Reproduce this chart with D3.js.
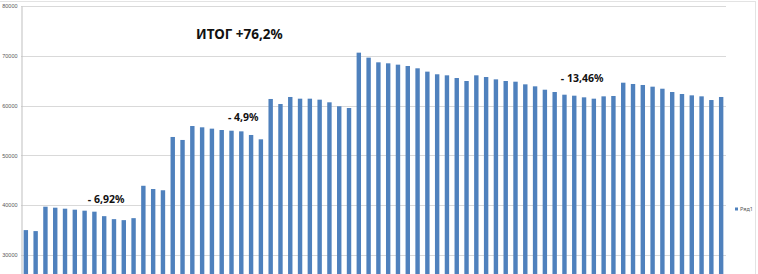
<!DOCTYPE html>
<html>
<head>
<meta charset="utf-8">
<script src="https://cdn.jsdelivr.net/npm/d3@7/dist/d3.min.js"></script>
<style>
	body { margin: 0; background: #fff; }
	svg { display: block; font-family: "Noto Sans", sans-serif; }
</style>
</head>
<body>
<div id="chart"></div>
<script>
// series values, one per bar (Ряд1)
var values = [35000, 34800, 39700, 39500, 39300, 39100, 38900, 38700, 37800, 37200,
	37000, 37400, 43900, 43250, 43000, 53700, 53100, 55900, 55640, 55370,
	55100, 54960, 54830, 54100, 53230, 61330, 60320, 61730, 61390, 61390,
	61190, 60660, 59860, 59520, 70630, 69630, 68690, 68490, 68220, 67950,
	67490, 66820, 66290, 66080, 65540, 64940, 66080, 65740, 65270, 64940,
	64800, 64270, 63870, 63190, 62730, 62190, 61990, 61660, 61390, 61860,
	61930, 64600, 64340, 64140, 63800, 63390, 62730, 62330, 62060, 61860,
	61120, 61730];
var categories = values.map(function(d, i){ return i + 1; });
var yTicks = [30000, 40000, 50000, 60000, 70000, 80000];
var seriesName = 'Ряд1';

// text notes over the bars: [category the label is centred on, value level of baseline, text]
var notes = [
	{text: 'ИТОГ +76,2%', at: 22.8, level: 73450, size: 13.5},
	{text: '- 6,92%', at: 9.2, level: 40450, size: 10.5},
	{text: '- 4,9%', at: 23.2, level: 56950, size: 10.5},
	{text: '- 13,46%', at: 57.8, level: 64800, size: 10.5}
];

var width = 758, height = 274;
var svg = d3.select('#chart').append('svg')
	.attr('width', width).attr('height', height);

var x = d3.scaleBand().domain(categories).range([21, 726]).paddingInner(0.55).paddingOuter(0.27);
var y = d3.scaleLinear().domain([20000, 80000]).range([304.8, 6]);

// centre of a (possibly fractional) category
function xAt(c){ return x(1) + x.bandwidth() / 2 + (c - 1) * x.step(); }

// outer frame lines
svg.append('line').attr('x1', 0).attr('x2', 755).attr('y1', 1.5).attr('y2', 1.5)
	.attr('stroke', '#e3e3e3');
svg.append('line').attr('x1', 755.5).attr('x2', 755.5).attr('y1', 1).attr('y2', height)
	.attr('stroke', '#e3e3e3');

// gridlines
svg.append('g').selectAll('line').data(yTicks).join('line')
	.attr('x1', 21).attr('x2', 726)
	.attr('y1', function(d){ return Math.round(y(d)) + 0.5; })
	.attr('y2', function(d){ return Math.round(y(d)) + 0.5; })
	.attr('stroke', '#d9d9d9');

// y axis
var yAxis = svg.append('g').attr('transform', 'translate(21.5,0)')
	.call(d3.axisLeft(y).tickValues(yTicks).tickFormat(d3.format('d')).tickSize(0).tickPadding(4));
yAxis.select('.domain').attr('stroke', '#bfbfbf');
yAxis.selectAll('text').attr('font-size', 5.5).attr('fill', '#595959');

// bars
svg.append('g').selectAll('rect').data(values).join('rect')
	.attr('x', function(d, i){ return x(categories[i]); })
	.attr('width', x.bandwidth())
	.attr('y', function(d){ return y(d); })
	.attr('height', function(d){ return y(20000) - y(d); })
	.attr('fill', '#4f81bd');

// notes
svg.append('g').selectAll('text').data(notes).join('text')
	.attr('x', function(d){ return xAt(d.at); })
	.attr('y', function(d){ return y(d.level); })
	.attr('text-anchor', 'middle')
	.attr('font-weight', 'bold')
	.attr('font-size', function(d){ return d.size; })
	.attr('fill', '#111')
	.text(function(d){ return d.text; });

// legend
var legend = svg.append('g').attr('transform', 'translate(735,209)');
legend.append('rect').attr('x', 0).attr('y', -1.5).attr('width', 3).attr('height', 3).attr('fill', '#4f81bd');
legend.append('text').attr('x', 5).attr('y', 2).attr('font-size', 5.5).attr('fill', '#595959').text(seriesName);
</script>
</body>
</html>
